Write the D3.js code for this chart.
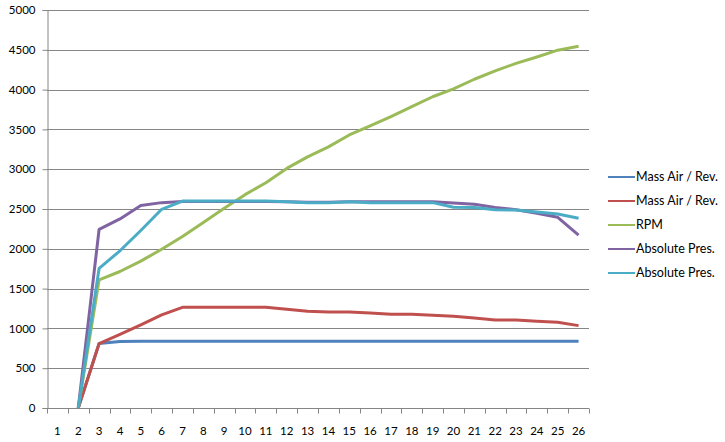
<!DOCTYPE html>
<html>
<head>
<meta charset="utf-8">
<script src="https://cdn.jsdelivr.net/npm/d3@7"></script>
<style>
  body { margin: 0; background: #fff; }
  svg text { font-family: Lato, "Open Sans", sans-serif; fill: #000; }
</style>
</head>
<body>
<div id="chart"></div>
<script>
// Data (category 1 has no values)
const categories = ["1","2","3","4","5","6","7","8","9","10","11","12","13","14","15","16","17","18","19","20","21","22","23","24","25","26"];
const yTicks = [0, 500, 1000, 1500, 2000, 2500, 3000, 3500, 4000, 4500, 5000];

const massAir1 = [null, 0, 810, 835, 840, 840, 840, 840, 840, 840, 840, 840, 840, 840, 840, 840, 840, 840, 840, 840, 840, 840, 840, 840, 840, 840];
const massAir2 = [null, 0, 810, 925, 1045, 1170, 1265, 1265, 1265, 1265, 1265, 1240, 1215, 1205, 1205, 1193, 1178, 1178, 1165, 1152, 1130, 1105, 1105, 1090, 1076, 1035];
const rpm = [null, 0, 1610, 1715, 1845, 1995, 2155, 2330, 2510, 2680, 2830, 3010, 3155, 3280, 3430, 3545, 3660, 3785, 3910, 4010, 4130, 4235, 4330, 4410, 4495, 4545];
const absPres1 = [null, 0, 2245, 2375, 2545, 2580, 2595, 2595, 2595, 2595, 2595, 2590, 2585, 2585, 2590, 2590, 2590, 2590, 2590, 2575, 2560, 2520, 2490, 2446, 2396, 2173];
const absPres2 = [null, 0, 1755, 1975, 2230, 2496, 2600, 2600, 2600, 2600, 2600, 2590, 2580, 2580, 2590, 2580, 2580, 2580, 2580, 2521, 2520, 2490, 2487, 2462, 2437, 2383];

const seriesNames = ["Mass Air / Rev.", "Mass Air / Rev.", "RPM", "Absolute Pres.", "Absolute Pres."];
const seriesValues = [massAir1, massAir2, rpm, absPres1, absPres2];
const colors = ["#4F81BD", "#C0504D", "#9BBB59", "#8064A2", "#4BACC6"];

const W = 725, H = 442;
const plot = { left: 47, right: 589, top: 10, bottom: 408 };

const svg = d3.select("#chart").append("svg")
    .attr("width", W)
    .attr("height", H);

const x = d3.scaleBand()
    .domain(categories)
    .range([plot.left, plot.right]);

const y = d3.scaleLinear()
    .domain([0, 5000])
    .range([plot.bottom, plot.top]);

// gridlines
svg.append("g")
    .selectAll("line")
    .data(yTicks.filter(d => d > 0))
    .enter()
    .append("line")
    .attr("x1", plot.left)
    .attr("x2", plot.right)
    .attr("y1", d => Math.round(y(d)) + 0.5)
    .attr("y2", d => Math.round(y(d)) + 0.5)
    .attr("stroke", "#868686")
    .attr("stroke-width", 1);

// y axis
const yAxis = svg.append("g")
    .attr("transform", `translate(${plot.left + 0.5},0)`)
    .call(d3.axisLeft(y).tickValues(yTicks).tickSize(5).tickPadding(7).tickFormat(d3.format("d")));
yAxis.select(".domain").attr("stroke", "#868686");
yAxis.selectAll(".tick line").attr("stroke", "#868686");
yAxis.selectAll("text").style("font-size", "11.5px");

// x axis - ticks on category boundaries
const xAxis = svg.append("g")
    .attr("transform", `translate(0,${Math.round(y(0)) + 0.5})`);
xAxis.append("line")
    .attr("x1", plot.left)
    .attr("x2", plot.right)
    .attr("stroke", "#868686");
xAxis.selectAll(".xtick")
    .data(categories.concat(["end"]))
    .enter()
    .append("line")
    .attr("class", "xtick")
    .attr("x1", (d, i) => Math.round(plot.left + i * x.bandwidth()) + 0.5)
    .attr("x2", (d, i) => Math.round(plot.left + i * x.bandwidth()) + 0.5)
    .attr("y1", 0)
    .attr("y2", 5)
    .attr("stroke", "#868686");
xAxis.selectAll(".xlabel")
    .data(categories)
    .enter()
    .append("text")
    .attr("class", "xlabel")
    .attr("x", d => x(d) + x.bandwidth() / 2)
    .attr("y", 26)
    .attr("text-anchor", "middle")
    .style("font-size", "11.5px")
    .text(d => d);

// lines
const line = d3.line()
    .defined(d => d != null)
    .x((d, i) => x(categories[i]) + x.bandwidth() / 2)
    .y(d => y(d));

svg.append("g")
    .selectAll("path")
    .data(seriesValues)
    .enter()
    .append("path")
    .attr("d", d => line(d))
    .attr("fill", "none")
    .attr("stroke", (d, i) => colors[i])
    .attr("stroke-width", 3)
    .attr("stroke-linejoin", "round");

// legend
const legend = svg.append("g")
    .selectAll("g")
    .data(seriesNames)
    .enter()
    .append("g")
    .attr("transform", (d, i) => `translate(608,${177 + i * 24})`);

legend.append("line")
    .attr("x1", 0)
    .attr("x2", 27)
    .attr("stroke", (d, i) => colors[i])
    .attr("stroke-width", 2);

legend.append("text")
    .attr("x", 28)
    .attr("dy", "0.35em")
    .style("font-size", "12.5px")
    .text(d => d);
</script>
</body>
</html>
